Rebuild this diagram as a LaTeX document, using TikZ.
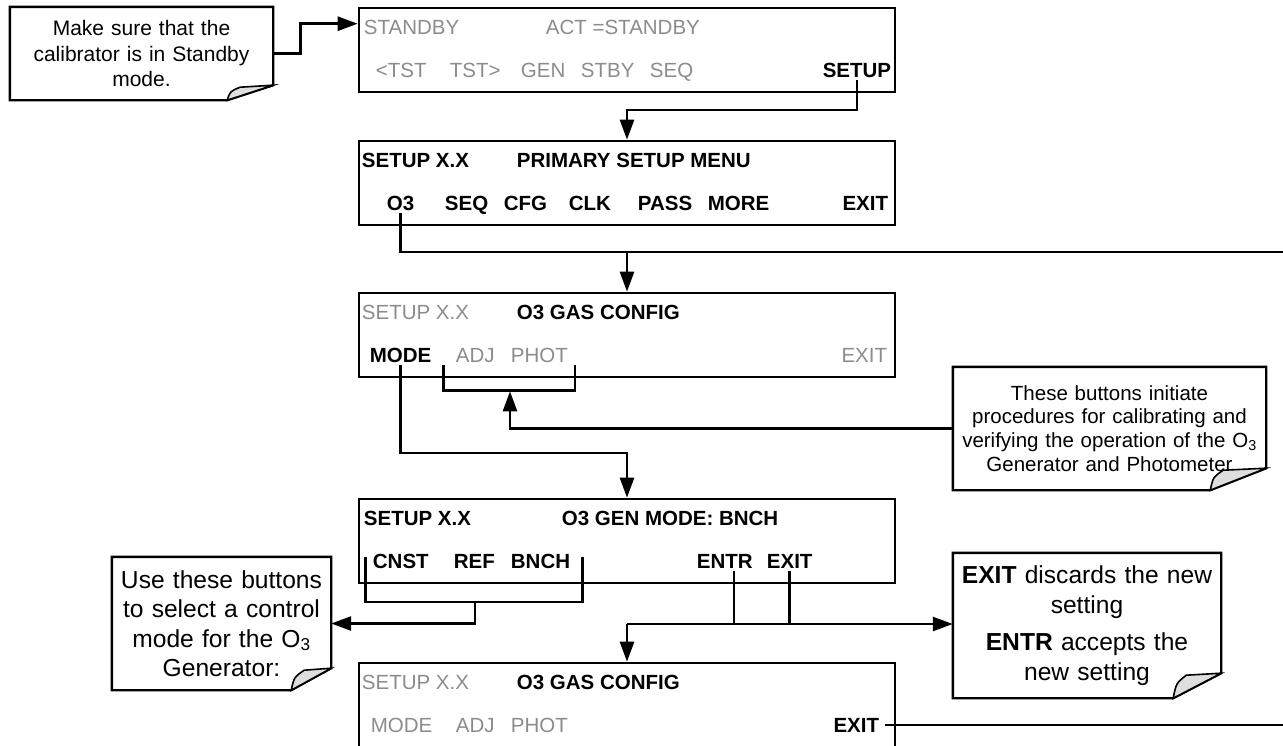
\documentclass[tikz,border=0pt]{standalone}
\usepackage{fontspec}
\setmainfont{Liberation Sans}
\usepackage{tikz}
\usetikzlibrary{arrows.meta}
\definecolor{dimtext}{gray}{0.55}
\definecolor{foldgray}{gray}{0.87}

% note outline with a folded bottom right corner: node, fold width, fold height
\newcommand{\foldnote}[3]{%
  \draw[noteline] (#1.north west) -- (#1.north east) -- ([yshift=#3]#1.south east)
    -- ([xshift=-#2]#1.south east) -- (#1.south west) -- cycle;
  \draw[noteline, line width=1.6pt, fill=foldgray] ([xshift=-#2]#1.south east)
    .. controls ([xshift=-#2+3pt, yshift=0.6*#3]#1.south east) .. ([xshift=-#2+13pt, yshift=#3-2pt]#1.south east)
    -- ([yshift=#3]#1.south east) -- cycle;}

\begin{document}
\begin{tikzpicture}[x=1pt, y=-1pt,
  screen/.style={draw, line width=2.6pt, minimum width=536pt, minimum height=84pt, inner sep=0pt},
  btn/.style={font=\fontsize{20.5}{24}\selectfont\bfseries, inner xsep=0pt, inner ysep=3pt, anchor=base west},
  dimbtn/.style={btn, font=\fontsize{20.5}{24}\selectfont, text=dimtext},
  memo/.style={inner sep=0pt, align=center},
  noteline/.style={line width=2.4pt, line join=miter},
  wire/.style={line width=2.6pt},
  arr/.style={wire, -{Triangle[length=20pt,width=14pt]}}]
\path[use as bounding box, fill=white] (0,0) rectangle (1283,745);
\coordinate (rightedge) at (1283,0);

% screens
\node[screen] (box1) at (627,50) {};
\node[screen] (box2) at (627,183) {};
\node[screen] (box3) at (627,335) {};
\node[screen] (box4) at (627,541) {};
\node[screen] (box5) at (627,705) {};

% standby screen
\node[dimbtn] (b1stby) at ([xshift=6pt,yshift=-27.3pt]box1.north west) {STANDBY};
\node[dimbtn] (b1act) at ([xshift=188pt,yshift=-27.3pt]box1.north west) {ACT =STANDBY};
\node[dimbtn] (b1tstl) at ([xshift=18pt,yshift=-70.3pt]box1.north west) {<TST};
\node[dimbtn] (b1tstr) at ([xshift=92pt,yshift=-70.3pt]box1.north west) {TST>};
\node[dimbtn] (b1gen) at ([xshift=163pt,yshift=-70.3pt]box1.north west) {GEN};
\node[dimbtn] (b1stb) at ([xshift=223pt,yshift=-70.3pt]box1.north west) {STBY};
\node[dimbtn] (b1seq) at ([xshift=292pt,yshift=-70.3pt]box1.north west) {SEQ};
\node[btn, anchor=base east] (b1setup) at ([xshift=-5pt,yshift=-70.3pt]box1.north east) {SETUP};

% primary setup menu
\node[btn] (b2title) at ([xshift=4pt,yshift=-27.3pt]box2.north west) {SETUP X.X};
\node[btn] (b2menu) at ([xshift=159pt,yshift=-27.3pt]box2.north west) {PRIMARY SETUP MENU};
\node[btn] (b2o3) at ([xshift=29pt,yshift=-70.3pt]box2.north west) {O3};
\node[btn] (b2seq) at ([xshift=87pt,yshift=-70.3pt]box2.north west) {SEQ};
\node[btn] (b2cfg) at ([xshift=146pt,yshift=-70.3pt]box2.north west) {CFG};
\node[btn] (b2clk) at ([xshift=211pt,yshift=-70.3pt]box2.north west) {CLK};
\node[btn] (b2pass) at ([xshift=280pt,yshift=-70.3pt]box2.north west) {PASS};
\node[btn] (b2more) at ([xshift=350pt,yshift=-70.3pt]box2.north west) {MORE};
\node[btn, anchor=base east] (b2exit) at ([xshift=-8pt,yshift=-70.3pt]box2.north east) {EXIT};

% o3 gas config
\node[dimbtn] (b3title) at ([xshift=4pt,yshift=-27.3pt]box3.north west) {SETUP X.X};
\node[btn] (b3cfg) at ([xshift=159pt,yshift=-27.3pt]box3.north west) {O3 GAS CONFIG};
\node[btn] (b3mode) at ([xshift=12pt,yshift=-70.3pt]box3.north west) {MODE};
\node[dimbtn] (b3adj) at ([xshift=98pt,yshift=-70.3pt]box3.north west) {ADJ};
\node[dimbtn] (b3phot) at ([xshift=153pt,yshift=-70.3pt]box3.north west) {PHOT};
\node[dimbtn, anchor=base east] (b3exit) at ([xshift=-9pt,yshift=-70.3pt]box3.north east) {EXIT};

% o3 gen mode
\node[btn] (b4title) at ([xshift=6pt,yshift=-27.3pt]box4.north west) {SETUP X.X};
\node[btn] (b4gen) at ([xshift=204pt,yshift=-27.3pt]box4.north west) {O3 GEN MODE: BNCH};
\node[btn] (b4cnst) at ([xshift=15pt,yshift=-70.3pt]box4.north west) {CNST};
\node[btn] (b4ref) at ([xshift=96pt,yshift=-70.3pt]box4.north west) {REF};
\node[btn] (b4bnch) at ([xshift=153pt,yshift=-70.3pt]box4.north west) {BNCH};
\node[btn] (b4entr) at ([xshift=339pt,yshift=-70.3pt]box4.north west) {ENTR};
\node[btn] (b4exit) at ([xshift=409pt,yshift=-70.3pt]box4.north west) {EXIT};

% back to o3 gas config
\node[dimbtn] (b5title) at ([xshift=4pt,yshift=-27.3pt]box5.north west) {SETUP X.X};
\node[btn] (b5cfg) at ([xshift=159pt,yshift=-27.3pt]box5.north west) {O3 GAS CONFIG};
\node[dimbtn] (b5mode) at ([xshift=13pt,yshift=-70.3pt]box5.north west) {MODE};
\node[dimbtn] (b5adj) at ([xshift=98pt,yshift=-70.3pt]box5.north west) {ADJ};
\node[dimbtn] (b5phot) at ([xshift=153pt,yshift=-70.3pt]box5.north west) {PHOT};
\node[btn, anchor=base east] (b5exit) at ([xshift=-17pt,yshift=-70.3pt]box5.north east) {EXIT};

% notes
\node[memo, text width=263pt, minimum height=93pt, font=\fontsize{21}{25.5}\selectfont] (standbynote) at (141.5,53.5)
  {Make sure that the\\calibrator is in Standby\\mode.};
\foldnote{standbynote}{46pt}{15pt}
\node[memo, text width=313pt, minimum height=123pt, font=\fontsize{20.5}{23.7}\selectfont] (procnote) at (1109.5,428.5)
  {These buttons initiate\\procedures for calibrating and\\verifying the operation of the O\textsubscript{3}\\Generator and Photometer};
\foldnote{procnote}{56pt}{22pt}
\node[memo, text width=268pt, minimum height=145pt, font=\fontsize{24.6}{29.5}\selectfont] (entrnote) at (1087,625.5)
  {\textbf{EXIT} discards the new\\setting\\[8pt]\textbf{ENTR} accepts the\\new setting};
\foldnote{entrnote}{48pt}{25pt}
\node[memo, text width=219pt, minimum height=133pt, font=\fontsize{24.6}{29.5}\selectfont] (modenote) at (221.5,623.5)
  {Use these buttons\\to select a control\\mode for the O\textsubscript{3}\\Generator:};
\foldnote{modenote}{40pt}{22pt}

% connectors
\coordinate (setupj) at (627,110);
\coordinate (o3j) at (627,252);
\coordinate (adjmid) at (510,391.3);
\coordinate (modej) at (627,453);
\coordinate (bnchmid) at (475,602);
\coordinate (entrj) at (627,624);

\draw[arr] (standbynote.east) -- ++(27,0) |- ([yshift=-17pt]box1.north west);
\draw[arr] (b1setup.south) |- (setupj) -- (box2.north);
\draw[wire] (b2o3.south) |- (o3j -| rightedge);
\draw[arr] (o3j) -- (box3.north);
\draw[wire] ([xshift=-12pt]b3adj.south west) -- ++(0,25) -| ([xshift=7pt]b3phot.south east);
\draw[arr] (procnote.west) -| (adjmid);
\draw[arr] (b3mode.south) |- (modej) -- (box4.north);
\draw[wire] ([xshift=-7pt,yshift=4pt]b4cnst.west) |- (bnchmid) -| ([xshift=12pt,yshift=4pt]b4bnch.east);
\draw[arr] (bnchmid) |- (modenote.east);
\draw[wire] ([xshift=9pt]b4entr.south) |- (entrj);
\draw[wire] (b4exit.south) |- (entrj);
\draw[arr] (entrj) -- (entrj -| entrnote.west);
\draw[arr] (entrj) -- (box5.north);
\draw[wire] ([xshift=6pt]b5exit.east) -- (b5exit.east -| rightedge);
\end{tikzpicture}
\end{document}
